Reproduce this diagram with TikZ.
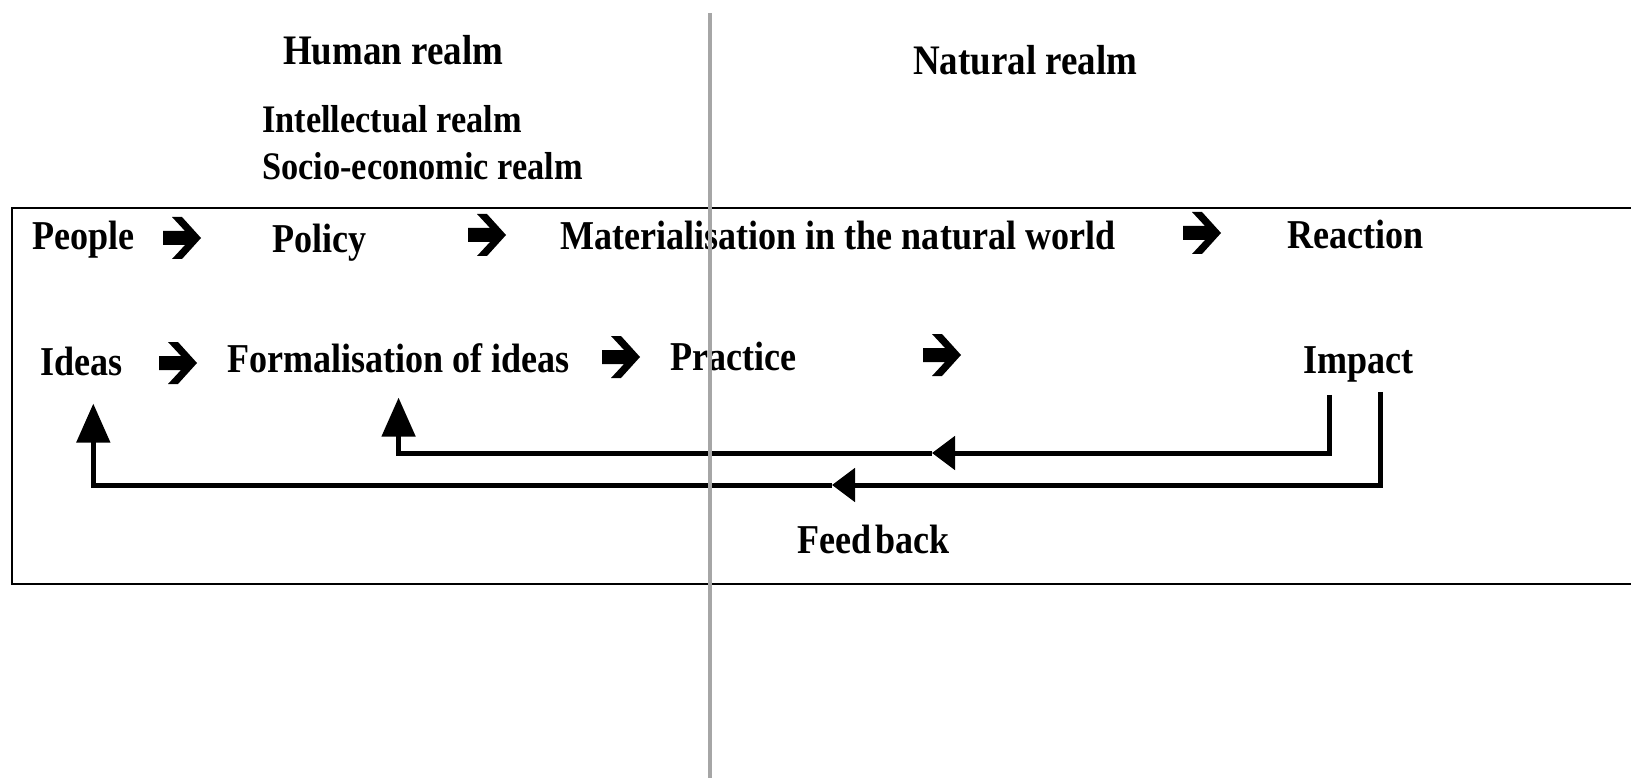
\documentclass[tikz,border=0pt]{standalone}
\usepackage{fontspec}
\setmainfont{Liberation Serif}[FakeStretch=0.88]
\usetikzlibrary{arrows.meta,calc}

\tikzset{
  word/.style={font=\bfseries\fontsize{41}{45}\selectfont, inner sep=0pt, anchor=base west},
  realm/.style={word, font=\bfseries\fontsize{42}{46}\selectfont},
  subrealm/.style={word, font=\bfseries\fontsize{39}{43}\selectfont},
  fb/.style={line width=5pt},
  fatarr/.pic={\fill (-19,-7) -- (3,-7) -- (-10,-21) -- (0,-21) -- (19,0) -- (0,21) -- (-10,21) -- (3,7) -- (-19,7) -- cycle;}
}

\begin{document}
\begin{tikzpicture}[x=1pt,y=-1pt]

\useasboundingbox (0,0) rectangle (1631,778);

\node[realm] (human) at (283,65) {Human realm};
\node[subrealm] (intel) at (262,133) {Intellectual realm};
\node[subrealm] (socio) at (262,180) {Socio-economic realm};
\node[realm] (natural) at (913,75) {Natural realm};

\draw[line width=2.5pt] (1631,208) -- (12,208) -- (12,584) -- (1631,584);

% first row
\node[word] (people) at (32,250) {People};
\node[word] (policy) at (272,253) {Policy};
\node[word] (mater) at (560,250) {Materialisation in the natural world};
\node[word] (reaction) at (1287,248) {Reaction};

\pic at (182,238) {fatarr};
\pic at (487,235) {fatarr};
\pic at (1202,233) {fatarr};

% second row
\node[word] (ideas) at (40,375) {Ideas};
\node[word] (formal) at (227,372) {Formalisation of ideas};
\node[word] (practice) at (670,370) {Practice};
\node[word] (impact) at (1303,373) {Impact};

\pic at (178,363) {fatarr};
\pic at (621,357) {fatarr};
\pic at (942,355) {fatarr};

% feedback loops
\coordinate (mid1) at (932,453);
\coordinate (mid2) at (832,485);
\draw[fb,-{Triangle[width=33pt,length=23pt]}] ([xshift=-29pt,yshift=-13pt]impact.south) |- (mid1);
\draw[fb,-{Triangle[width=33pt,length=39pt]}] (mid1) -| ([yshift=-25pt]formal.south);
\draw[fb,-{Triangle[width=33pt,length=23pt]}] ([xshift=22pt,yshift=-10pt]impact.south) |- (mid2);
\draw[fb,-{Triangle[width=33pt,length=39pt]}] (mid2) -| ([xshift=12pt,yshift=-28pt]ideas.south);

\node[word] (feedback) at (797,553) {Feed\kern4pt back};

\draw[gray!70, line width=4pt] (710,13) -- (710,778);

\end{tikzpicture}
\end{document}
